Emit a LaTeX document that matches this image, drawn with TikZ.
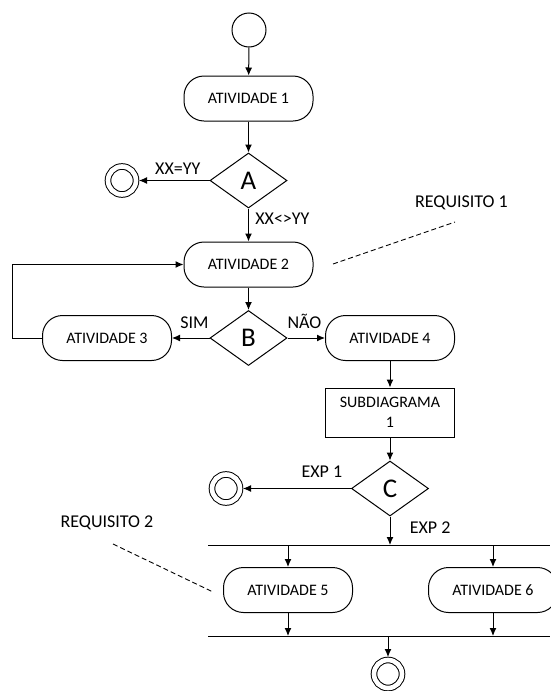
\documentclass[tikz,border=0pt]{standalone}
\usepackage{fontspec}
\setmainfont{Carlito}
\usetikzlibrary{shapes.geometric,arrows.meta,positioning}

\begin{document}
\begin{tikzpicture}[x=1pt,y=-1pt,line width=1pt,
    atividade/.style={draw,rounded corners=20pt,minimum width=129pt,minimum height=45pt,font=\fontsize{16}{18}\selectfont},
    decisao/.style={draw,diamond,inner sep=0pt,minimum width=77pt,minimum height=55pt,font=\fontsize{27}{29}\selectfont},
    caixa/.style={draw,minimum width=129pt,minimum height=49pt,align=center,font=\fontsize{16}{20}\selectfont},
    inicio/.style={draw,circle,minimum size=34pt},
    fim/.style={draw,circle,double,double distance=4.6pt,minimum size=28pt,outer sep=3pt},
    seta/.style={-{Latex[length=8pt,width=7pt]}},
    rotulo/.style={font=\fontsize{18}{20}\selectfont},
    requisito/.style={font=\fontsize{18}{20}\selectfont},
    nota/.style={line width=0.9pt,dash pattern=on 5pt off 3pt}]
        \useasboundingbox (0,0) rectangle (550,691);
        % nos principais
        \node[inicio] (ini) at (249,30) {};
        \node[atividade] (at1) at (248.5,98.5) {ATIVIDADE 1};
        \node[decisao] (A) at (248.5,180.5) {A};
        \node[fim] (fimA) at (122,180.5) {};
        \node[atividade] (at2) at (248.5,264.5) {ATIVIDADE 2};
        \node[decisao] (B) at (248.5,338) {B};
        \node[atividade] (at3) at (107,338) {ATIVIDADE 3};
        \node[atividade] (at4) at (390,338) {ATIVIDADE 4};
        \node[caixa] (sub) at (390,412.5) {SUBDIAGRAMA\\1};
        \node[decisao] (C) at (390,488.5) {C};
        \node[fim] (fimC) at (226,488.5) {};
        % barras de bifurcacao e juncao
        \coordinate (garfoE) at (208,545);
        \coordinate (garfoD) at (550,545);
        \coordinate (juncaoE) at (208,636);
        \coordinate (juncaoD) at (550,636);
        \node[atividade] (at5) at (288,590) {ATIVIDADE 5};
        \node[atividade] (at6) at (493,590) {ATIVIDADE 6};
        \node[fim] (fimF) at (388,674) {};
        \draw (garfoE) -- (garfoD);
        \draw (juncaoE) -- (juncaoD);
        % transicoes
        \draw[seta] (ini) -- (at1);
        \draw[seta] (at1) -- (A);
        \draw[seta] (A) -- node[rotulo,above=2pt,pos=0.45] {XX=YY} (fimA);
        \draw[seta] (A) -- node[rotulo,right=3pt,pos=0.3] {XX<>YY} (at2);
        \draw[seta] (at2) -- (B);
        \draw[seta] (B) -- node[rotulo,above=6pt,pos=0.4] {SIM} (at3);
        \draw[seta] (B) -- node[rotulo,above=6pt,pos=0.45] {NÃO} (at4);
        \draw[seta] (at3.west) -- ++(-30,0) |- (at2.west);
        \draw[seta] (at4) -- (sub);
        \draw[seta] (sub) -- (C);
        \draw[seta] (C) -- node[rotulo,above=7pt,pos=0.27] {EXP 1} (fimC);
        \draw[seta] (C.south) -- node[rotulo,right=16pt,pos=0.4] {EXP 2} (C.south |- garfoE);
        \foreach \a in {at5,at6}{
          \draw[seta] (\a.north |- garfoE) -- (\a);
          \draw[seta] (\a) -- (\a.south |- juncaoE);
        }
        \draw[seta] (fimF.north |- juncaoE) -- (fimF);
        % requisitos
        \node[requisito] (req1) at (461.5,202.5) {REQUISITO 1};
        \node[requisito] (req2) at (107,522.5) {REQUISITO 2};
        \coordinate (n1a) at (333,264);
        \coordinate (n1b) at (455,222);
        \coordinate (n2a) at (113,544);
        \coordinate (n2b) at (213,592);
        \draw[nota] (n1a) -- (n1b);
        \draw[nota] (n2a) -- (n2b);
\end{tikzpicture}
\end{document}
